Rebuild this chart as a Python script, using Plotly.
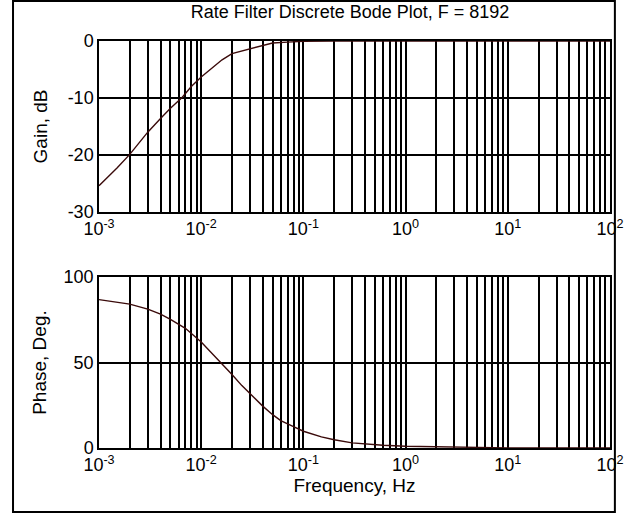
import plotly.graph_objects as go

# ---- data ----
gain_freq = [0.001, 0.0015, 0.002, 0.0026, 0.003, 0.004, 0.005, 0.0065, 0.008, 0.01,
             0.013, 0.016, 0.02, 0.03, 0.04, 0.05, 0.07, 0.1, 0.2, 1, 10, 100]
gain_db = [-25.4, -22.3, -19.9, -17.4, -16.0, -13.6, -11.8, -9.9, -8.0, -6.3,
           -4.6, -3.3, -2.2, -1.4, -0.8, -0.35, -0.2, -0.05, 0.0, 0.0, 0.0, 0.0]

phase_freq = [0.001, 0.0015, 0.002, 0.003, 0.004, 0.005, 0.007, 0.01, 0.013, 0.016,
              0.02, 0.025, 0.03, 0.04, 0.05, 0.06, 0.08, 0.1, 0.15, 0.2, 0.3, 0.4,
              0.6, 1, 2, 3, 5, 10, 100]
phase_deg = [86.8, 85.5, 84.2, 81.2, 78.3, 75.3, 70.0, 62.0, 55.0, 49.5,
             43.0, 36.5, 31.6, 24.5, 19.5, 16.0, 12.5, 9.8, 6.5, 4.8, 3.0, 2.3,
             1.6, 1.0, 0.6, 0.4, 0.2, 0.1, 0.0]

decades = [-3, -2, -1, 0, 1, 2]
decade_labels = ["10<sup>-3</sup>", "10<sup>-2</sup>", "10<sup>-1</sup>",
                 "10<sup>0</sup>", "10<sup>1</sup>", "10<sup>2</sup>"]
gain_ticks = [0, -10, -20, -30]
gain_tick_labels = ["0", "-10", "-20", "-30"]
phase_ticks = [0, 50, 100]
phase_tick_labels = ["0", "50", "100"]

title_text = "Rate Filter Discrete Bode Plot, F = 8192"
gain_label = "Gain, dB"
phase_label = "Phase, Deg."
freq_label = "Frequency, Hz"

# ---- x grid (log): decades as major ticks, 2..9 as minor grid lines ----
major_x = [10.0 ** d for d in decades]
minor_x = [m * 10.0 ** d for d in decades[:-1] for m in range(2, 10)]

FONT = "Liberation Sans, Arial, sans-serif"
line_color = "#3a0a0a"
TICK_SIZE = 18
LABEL_SIZE = 19

fig = go.Figure()
fig.add_trace(go.Scatter(x=gain_freq, y=gain_db, mode="lines",
                         line=dict(color=line_color, width=1.4),
                         xaxis="x", yaxis="y", showlegend=False, hoverinfo="skip"))
fig.add_trace(go.Scatter(x=phase_freq, y=phase_deg, mode="lines",
                         line=dict(color=line_color, width=1.4),
                         xaxis="x2", yaxis="y2", showlegend=False, hoverinfo="skip"))

common_x = dict(type="log", range=[-3, 2], tickmode="array",
                tickvals=major_x, ticktext=decade_labels,
                ticklabeloverflow="allow",
                showgrid=True, gridcolor="black", gridwidth=1.5,
                minor=dict(tickmode="array", tickvals=minor_x, showgrid=True,
                           gridcolor="black", gridwidth=1.5, ticks=""),
                showline=True, linecolor="black", linewidth=1.5, mirror=True,
                ticks="", zeroline=False,
                tickfont=dict(family=FONT, size=TICK_SIZE, color="black"))
common_y = dict(showgrid=True, gridcolor="black", gridwidth=1.5,
                showline=True, linecolor="black", linewidth=1.5, mirror=True,
                ticks="", zeroline=False,
                tickfont=dict(family=FONT, size=TICK_SIZE, color="black"))

fig.update_layout(
    width=636, height=516,
    margin=dict(l=99, r=14, t=41, b=68),
    paper_bgcolor="white", plot_bgcolor="white",
    font=dict(family=FONT, color="black", size=LABEL_SIZE),
    title=dict(text=title_text, x=350 / 636, xanchor="center",
               y=1 - 12 / 516, yanchor="middle", yref="container",
               font=dict(family=FONT, size=18, color="black")),
    xaxis=dict(domain=[0, 1], anchor="y", **common_x),
    yaxis=dict(domain=[0.58, 1], anchor="x", range=[-30, 0],
               tickmode="array", tickvals=gain_ticks, ticktext=gain_tick_labels,
               title=dict(text=gain_label, font=dict(family=FONT, size=LABEL_SIZE),
                          standoff=15),
               **common_y),
    xaxis2=dict(domain=[0, 1], anchor="y2",
                title=dict(text=freq_label, font=dict(family=FONT, size=LABEL_SIZE),
                           standoff=0),
                **common_x),
    yaxis2=dict(domain=[0, 0.42], anchor="x2", range=[0, 100],
                tickmode="array", tickvals=phase_ticks, ticktext=phase_tick_labels,
                title=dict(text=phase_label, font=dict(family=FONT, size=LABEL_SIZE),
                           standoff=12),
                **common_y),
    shapes=[dict(type="rect", xref="paper", yref="paper",
                 x0=(11 - 99) / 523, x1=(627 - 99) / 523,
                 y0=(448 - 512) / 407, y1=(448 - 1) / 407,
                 line=dict(color="black", width=2), fillcolor="rgba(0,0,0,0)",
                 layer="below")],
)

fig.write_html("out.html",
               config={"displayModeBar": False},
               post_script="document.body.style.margin='0px';")
